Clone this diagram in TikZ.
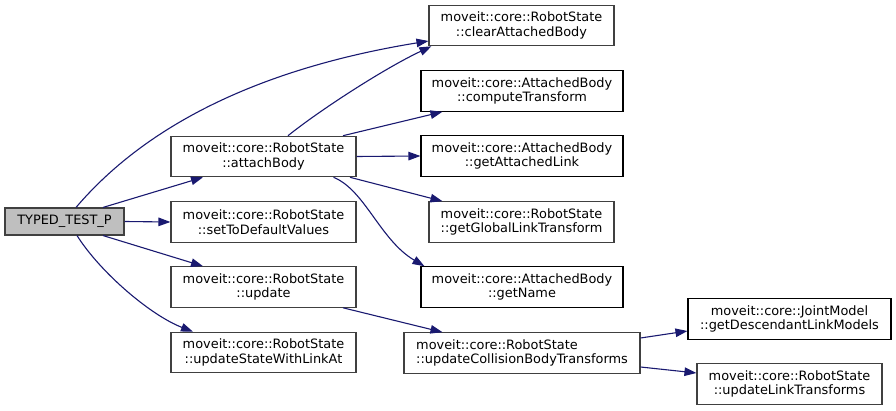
\documentclass[tikz,border=0pt]{standalone}
\usepackage{fontspec}
\setmainfont{DejaVu Sans}
\usetikzlibrary{arrows.meta,calc}
\definecolor{edgeblue}{HTML}{191970}
\definecolor{grayborder}{HTML}{404040}
\definecolor{curfill}{HTML}{BFBFBF}
\tikzset{
  box/.style={draw=grayborder, line width=1.1pt, fill=white, rectangle, inner sep=0pt,
    minimum height=40.5pt, align=center, font=\fontsize{12.9}{14.6}\selectfont},
  boxb/.style={box, draw=black},
  cur/.style={box, fill=curfill, minimum height=27pt},
  edge/.style={draw=edgeblue, line width=1.1pt, -{Triangle[length=12pt,width=8.5pt]}}
}
\begin{document}
\begin{tikzpicture}[x=1pt,y=-1pt]
\useasboundingbox (0,0) rectangle (896,411);
% left column
\node[cur, minimum width=119pt] (typed) at (64.5,221.5) {TYPED\_TEST\_P};
\node[box, minimum width=185pt] (attach) at (263.5,156.5) {moveit::core::RobotState\\::attachBody};
\node[box, minimum width=185pt] (setdef) at (263.5,222) {moveit::core::RobotState\\::setToDefaultValues};
\node[box, minimum width=185pt] (update) at (263.5,287) {moveit::core::RobotState\\::update};
\node[box, minimum width=185pt] (uswla) at (263.5,352.5) {moveit::core::RobotState\\::updateStateWithLinkAt};
% middle column
\node[box, minimum width=185pt] (clear) at (521.5,25.5) {moveit::core::RobotState\\::clearAttachedBody};
\node[boxb, minimum width=202pt] (compute) at (522,91) {moveit::core::AttachedBody\\::computeTransform};
\node[boxb, minimum width=202pt] (getal) at (522,156) {moveit::core::AttachedBody\\::getAttachedLink};
\node[box, minimum width=185pt] (getglt) at (521.5,222) {moveit::core::RobotState\\::getGlobalLinkTransform};
\node[boxb, minimum width=202pt] (getname) at (522,287) {moveit::core::AttachedBody\\::getName};
\node[box, minimum width=236pt, align=left] (ucbt) at (522,353) {moveit::core::RobotState\\::updateCollisionBodyTransforms};
% right column
\node[boxb, minimum width=203pt] (getdlm) at (789.5,319) {moveit::core::JointModel\\::getDescendantLinkModels};
\node[box, minimum width=185pt] (ult) at (789.5,384) {moveit::core::RobotState\\::updateLinkTransforms};
% edges from TYPED_TEST_P
\draw[edge] ([xshift=11.5pt]typed.north) .. controls (125,150) and (220,75) .. ([yshift=-15.5pt]clear.west);
\draw[edge] ([xshift=38.5pt]typed.north) -- ([xshift=-60.5pt]attach.south);
\draw[edge] (typed.east) -- (setdef.west);
\draw[edge] ([xshift=38.5pt]typed.south) -- ([xshift=-60.5pt]update.north);
\draw[edge] ([xshift=12.5pt]typed.south) .. controls (100,272) and (150,315) .. ([xshift=-70.5pt]uswla.north);
% edges from attachBody
\draw[edge] ([xshift=24.5pt]attach.north) .. controls (320,110) and (385,68) .. ([xshift=3pt]clear.south west);
\draw[edge] ([xshift=79.5pt]attach.north) -- ([xshift=22pt]compute.south west);
\draw[edge] (attach.east) -- (getal.west);
\draw[edge] ([xshift=86.5pt]attach.south) -- ([xshift=14pt]getglt.north west);
\draw[edge] ([xshift=70pt]attach.south) .. controls (365,190) and (380,240) .. ([xshift=4pt]getname.north west);
% other edges
\draw[edge] ([xshift=79.5pt]update.south) -- ([xshift=39pt]ucbt.north west);
\draw[edge] ([yshift=15pt]ucbt.east) -- ([yshift=-12pt]getdlm.west);
\draw[edge] ([yshift=-14pt]ucbt.east) -- ([yshift=11pt]ult.west);
\end{tikzpicture}
\end{document}
